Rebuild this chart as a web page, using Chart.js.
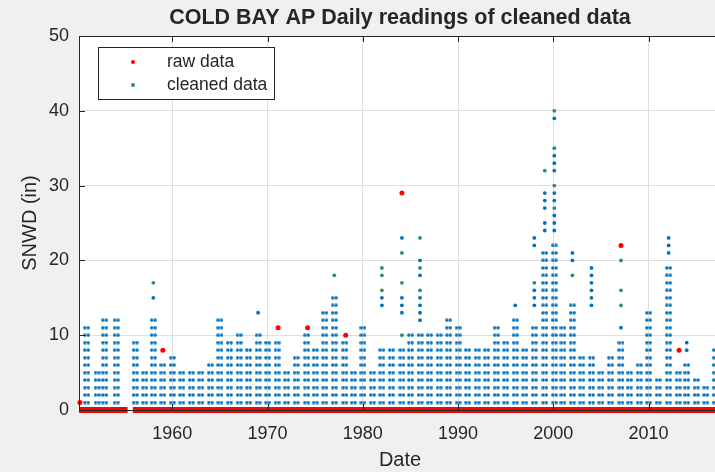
<!DOCTYPE html>
<html>
<head>
<meta charset="utf-8">
<title>COLD BAY AP Daily readings of cleaned data</title>
<script src="https://cdn.jsdelivr.net/npm/chart.js@4.4.1/dist/chart.umd.min.js"></script>
<style>
    html, body { margin: 0; padding: 0; overflow: hidden; background: #f0f0f0; }
    canvas { display: block; }
</style>
</head>
<body>
<canvas id="snowChart" width="730" height="472"></canvas>
<script>
// Winter columns of cleaned daily snow depth (decimal year of each season's column)
const winterYears = [1951.0, 1952.1, 1952.9, 1954.1, 1956.1, 1957.1, 1958.0, 1959.0, 1960.0, 1961.0,
    1962.0, 1963.0, 1964.0, 1965.0, 1966.0, 1967.0, 1968.0, 1969.0, 1970.0, 1971.0,
    1972.0, 1973.0, 1974.1, 1975.0, 1976.0, 1977.0, 1978.1, 1979.0, 1980.0, 1981.0,
    1982.0, 1983.0, 1984.1, 1985.0, 1986.0, 1987.0, 1988.0, 1989.0, 1990.0, 1991.0,
    1992.0, 1993.0, 1994.0, 1995.0, 1996.0, 1997.0, 1998.0, 1999.1, 2000.1, 2001.0,
    2002.0, 2003.0, 2004.0, 2005.0, 2006.0, 2007.1, 2008.0, 2009.0, 2010.0, 2011.0,
    2012.1, 2013.1, 2014.0, 2015.0, 2016.0, 2017.0];
// deepest reading of each season with every whole inch below it also read
const winterFill = [11, 5, 12, 12, 9, 5, 12, 6, 7, 5,
    5, 5, 6, 12, 9, 10, 8, 10, 9, 9,
    5, 7, 10, 8, 13, 15, 9, 5, 11, 5,
    8, 8, 8, 10, 10, 10, 10, 12, 11, 8,
    8, 8, 11, 9, 12, 8, 11, 21, 22, 11,
    14, 7, 7, 5, 7, 9, 5, 6, 13, 4,
    19, 5, 6, 4, 3, 8];

// sparse deeper readings (blue)
const extraYears = [1958.0, 1969.0, 1982.0, 1982.0, 1984.1, 1984.1, 1984.1, 1984.1,
    1986.0, 1986.0, 1986.0, 1986.0, 1986.0, 1986.0, 1996.0,
    1998.0, 1998.0, 1998.0, 1998.0, 1998.0,
    1999.1, 1999.1, 1999.1, 1999.1, 1999.1,
    2000.1, 2000.1, 2000.1, 2000.1, 2000.1, 2000.1, 2000.1, 2000.1, 2000.1,
    2002.0, 2002.0, 2004.0, 2004.0, 2004.0, 2004.0, 2004.0, 2004.0,
    2007.1, 2012.1, 2012.1, 2012.1, 2014.0, 2014.0];
const extraDepths = [15, 13, 14, 15, 13, 14, 15, 23,
    12, 13, 14, 15, 18, 20, 14,
    14, 15, 16, 22, 23,
    24, 25, 27, 28, 29,
    24, 25, 26, 28, 29, 32, 33, 34, 39,
    20, 21, 14, 15, 16, 17, 18, 19,
    11, 21, 22, 23, 8, 9];

// cleaned data markers (teal)
const cleanedYears = [1958.0, 1977.0, 1982.0, 1982.0, 1982.0, 1984.1, 1984.1, 1984.1,
    1986.0, 1986.0, 1986.0, 1998.0, 1999.1, 2000.1, 2000.1, 2000.1, 2000.1,
    2002.0, 2007.1, 2007.1, 2007.1];
const cleanedDepths = [17, 18, 16, 18, 19, 10, 17, 21,
    16, 19, 23, 17, 32, 27, 30, 35, 40,
    18, 14, 16, 20];

// raw readings removed by the cleaning (red)
const rawYears = [1950.3, 1959.0, 1971.1, 1974.2, 1978.2, 1984.1, 2007.1, 2013.2];
const rawDepths = [1, 8, 11, 11, 10, 29, 22, 8];

// stretches of raw zero readings along the bottom
const zeroSpanStart = [1950.2, 1955.85];
const zeroSpanEnd = [1955.3, 2017.6];

const xTickYears = [1960, 1970, 1980, 1990, 2000, 2010];
const yTickValues = [0, 10, 20, 30, 40, 50];

const FONT = "'Liberation Sans', Arial, Helvetica, sans-serif";
const INK = '#262626';
const BLUE = '#0072BD';
const TEAL = '#2f8a78';
const RED = '#ff0000';

// two dots side by side: one season column of daily readings
function makePairMark(color) {
    const c = document.createElement('canvas');
    c.width = 7;
    c.height = 4;
    const g = c.getContext('2d');
    g.fillStyle = color;
    [1.8, 5.2].forEach(cx => {
        g.beginPath();
        g.arc(cx, 2, 1.7, 0, Math.PI * 2);
        g.fill();
    });
    return c;
}

function buildColumnPoints() {
    const pts = [];
    winterYears.forEach((yr, i) => {
        for (let d = 1; d <= winterFill[i]; d++) {
            pts.push({ x: yr, y: d });
        }
    });
    return pts;
}

function zip(xs, ys) {
    return xs.map((x, i) => ({ x: x, y: ys[i] }));
}

function buildZeroLine() {
    const pts = [];
    zeroSpanStart.forEach((s, i) => {
        if (i > 0) pts.push({ x: (zeroSpanEnd[i - 1] + s) / 2, y: null });
        pts.push({ x: s, y: 0 });
        pts.push({ x: zeroSpanEnd[i], y: 0 });
    });
    return pts;
}

// MATLAB-like frame: background, box, inward ticks, titles and legend
const matlabFrame = {
    id: 'matlabFrame',
    beforeDraw(chart) {
        const { ctx, chartArea: a } = chart;
        ctx.save();
        ctx.fillStyle = '#f0f0f0';
        ctx.fillRect(0, 0, chart.width, chart.height);
        ctx.fillStyle = '#ffffff';
        ctx.fillRect(a.left, a.top, a.right - a.left, a.bottom - a.top);
        ctx.restore();
    },
    afterDraw(chart) {
        const { ctx, chartArea: a, scales } = chart;
        ctx.save();
        ctx.strokeStyle = INK;
        ctx.lineWidth = 1;
        ctx.strokeRect(a.left + 0.5, a.top + 0.5, a.right - a.left, a.bottom - a.top);

        ctx.beginPath();
        xTickYears.forEach(v => {
            const px = Math.round(scales.x.getPixelForValue(v)) + 0.5;
            ctx.moveTo(px, a.bottom);
            ctx.lineTo(px, a.bottom - 6);
            ctx.moveTo(px, a.top);
            ctx.lineTo(px, a.top + 6);
        });
        yTickValues.forEach(v => {
            const py = Math.round(scales.y.getPixelForValue(v)) + 0.5;
            ctx.moveTo(a.left, py);
            ctx.lineTo(a.left + 6, py);
            ctx.moveTo(a.right, py);
            ctx.lineTo(a.right - 6, py);
        });
        ctx.stroke();

        const cx = (a.left + a.right) / 2;
        ctx.fillStyle = INK;
        ctx.textAlign = 'center';
        ctx.textBaseline = 'middle';
        ctx.font = 'bold 21.5px ' + FONT;
        ctx.fillText('COLD BAY AP Daily readings of cleaned data', cx, 18);

        ctx.font = '20px ' + FONT;
        ctx.fillText('Date', cx, 460);

        ctx.save();
        ctx.translate(30, (a.top + a.bottom) / 2);
        ctx.rotate(-Math.PI / 2);
        ctx.fillText('SNWD (in)', 0, 0);
        ctx.restore();

        // legend
        ctx.fillStyle = '#ffffff';
        ctx.fillRect(98, 47, 176, 52);
        ctx.strokeRect(98.5, 47.5, 176, 52);
        const entries = [['raw data', RED, 62], ['cleaned data', TEAL, 85]];
        ctx.font = '17.5px ' + FONT;
        ctx.textAlign = 'left';
        entries.forEach(([label, color, y]) => {
            ctx.fillStyle = color;
            ctx.beginPath();
            ctx.arc(133, y, 2, 0, Math.PI * 2);
            ctx.fill();
            ctx.fillStyle = INK;
            ctx.fillText(label, 167, y);
        });
        ctx.restore();
    }
};

new Chart(document.getElementById('snowChart'), {
    type: 'scatter',
    data: {
        datasets: [
            {
                label: 'raw data',
                data: zip(rawYears, rawDepths),
                backgroundColor: RED,
                borderWidth: 0,
                pointRadius: 2.5,
                clip: 4
            },
            {
                label: 'raw zeros',
                data: buildZeroLine(),
                showLine: true,
                spanGaps: false,
                borderColor: RED,
                borderWidth: 6,
                pointRadius: 0,
                clip: 4
            },
            {
                label: 'cleaned data',
                data: zip(cleanedYears, cleanedDepths),
                backgroundColor: TEAL,
                borderWidth: 0,
                pointRadius: 1.9
            },
            {
                label: 'cleaned extra',
                data: zip(extraYears, extraDepths),
                backgroundColor: BLUE,
                borderWidth: 0,
                pointRadius: 1.9
            },
            {
                label: 'cleaned columns',
                data: buildColumnPoints(),
                pointStyle: makePairMark(BLUE),
                pointRadius: 2
            }
        ]
    },
    options: {
        responsive: false,
        animation: false,
        devicePixelRatio: 1,
        layout: { padding: { top: 36, right: 9, left: 0, bottom: 0 } },
        plugins: {
            legend: { display: false },
            tooltip: { enabled: false }
        },
        scales: {
            x: {
                type: 'linear',
                min: 1950.2,
                max: 2017.6,
                afterBuildTicks: s => { s.ticks = xTickYears.map(v => ({ value: v })); },
                afterFit: s => { s.height = 62; },
                grid: { color: '#dedede', drawTicks: false },
                border: { display: false },
                ticks: {
                    callback: v => String(v),
                    color: INK,
                    font: { family: FONT, size: 18 },
                    padding: 13,
                    maxRotation: 0
                }
            },
            y: {
                min: 0,
                max: 50,
                afterBuildTicks: s => { s.ticks = yTickValues.map(v => ({ value: v })); },
                afterFit: s => { s.width = 79; },
                grid: { color: '#dedede', drawTicks: false },
                border: { display: false },
                ticks: {
                    callback: v => String(v),
                    color: INK,
                    font: { family: FONT, size: 18 },
                    padding: 10
                }
            }
        }
    },
    plugins: [matlabFrame]
});
</script>
</body>
</html>
